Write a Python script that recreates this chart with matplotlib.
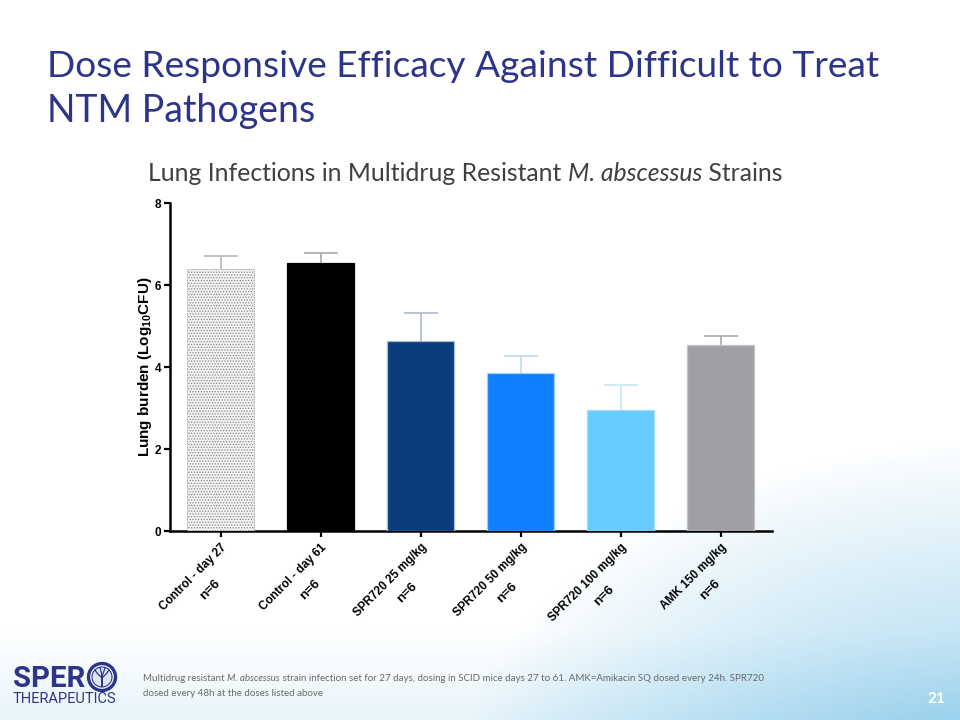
import numpy as np
import matplotlib
matplotlib.use("Agg")
import matplotlib.pyplot as plt
from matplotlib.patches import Circle

# ---------------- data ----------------
categories = ["Control - day 27", "Control - day 61", "SPR720 25 mg/kg",
              "SPR720 50 mg/kg", "SPR720 100 mg/kg", "AMK 150 mg/kg"]
group_n = ["n=6", "n=6", "n=6", "n=6", "n=6", "n=6"]
means = [6.38, 6.54, 4.64, 3.86, 2.94, 4.54]
sem = [0.32, 0.23, 0.67, 0.40, 0.62, 0.22]
yticks = [0, 2, 4, 6, 8]

bar_colors = ["#f2f2f2", "#000000", "#0b3d7e", "#107fff", "#66ccff", "#a09fa4"]
edge_colors = ["#8a8a8a", "#000000", "#a9bccd", "#9fd0f5", "#a5dcf7", "#c4c4c4"]
err_colors = ["#b8b8b8", "#a8a8a8", "#a9bccd", "#bcdcec", "#c8e6f4", "#ababab"]

W, H = 960, 720
NAVY = "#2d3588"

plt.rcParams["mathtext.fontset"] = "custom"
plt.rcParams["mathtext.bf"] = "Liberation Sans:bold"
plt.rcParams["mathtext.rm"] = "Liberation Sans:bold"
plt.rcParams["hatch.linewidth"] = 0.6

fig = plt.figure(figsize=(W / 100, H / 100), dpi=100)
renderer = fig.canvas.get_renderer()

# ---------------- background ----------------
bg_ax = fig.add_axes([0, 0, 1, 1], zorder=-10)
yy, xx = np.mgrid[0:H, 0:W].astype(float)
d = np.sqrt(((xx - 1010) / 560) ** 2 + ((yy - 800) / 360) ** 2)
a = np.clip(1 - d, 0, 1) ** 0.9 * 0.95
band = np.clip((yy - 630) / 90, 0, 1) * 0.22
a = np.clip(a + band, 0, 1)
light = np.array([150, 208, 236]) / 255.0
img = np.ones((H, W, 3)) * (1 - a[..., None]) + light * a[..., None]
bg_ax.imshow(img, extent=[0, W, H, 0], aspect="auto")
bg_ax.set_xlim(0, W)
bg_ax.set_ylim(H, 0)
bg_ax.axis("off")


def fx(px):
    return px / W


def fy(py):
    return 1 - py / H


def fit_runs(x_px, y_px, runs, target_w, color, family, weight="normal"):
    """Place consecutive text runs; scale font so total width equals target."""
    def place(size):
        x = x_px
        objs = []
        for s, style in runs:
            t = fig.text(fx(x), fy(y_px), s, fontsize=size, style=style,
                         family=family, color=color, weight=weight, va="baseline")
            bb = t.get_window_extent(renderer)
            x += bb.width
            objs.append(t)
        return objs, x - x_px
    objs, w = place(10)
    for o in objs:
        o.remove()
    size = 10 * target_w / w
    place(size)
    return size


# ---------------- titles ----------------
fit_runs(47, 77, [("Dose Responsive Efficacy Against Difficult to Treat", "normal")],
         833, NAVY, "Lato")
fit_runs(47, 122, [("NTM Pathogens", "normal")], 268, NAVY, "Lato")

fit_runs(148, 181, [("Lung Infections in Multidrug Resistant ", "normal"),
                    ("M. abscessus", "italic"), (" Strains", "normal")],
         635, "#404040", "Lato")

# ---------------- chart ----------------
ax = fig.add_axes([fx(170), fy(531), (772 - 170) / W, (531 - 203) / H])
ax.set_facecolor("none")
x = np.arange(len(categories))
for i in range(len(categories)):
    if i == 0:
        ax.bar(x[i], means[i], width=0.67, color=bar_colors[i], edgecolor=edge_colors[i],
               hatch="......", linewidth=0.6, linestyle=":", zorder=3)
    else:
        ax.bar(x[i], means[i], width=0.67, color=bar_colors[i], edgecolor=edge_colors[i],
               linewidth=0.9, zorder=3)
    top = means[i] + sem[i]
    ax.vlines(x[i], means[i], top, color=err_colors[i], linewidth=1.2, zorder=2)
    ax.hlines(top, x[i] - 0.17, x[i] + 0.17, color=err_colors[i], linewidth=1.2, zorder=2)

ax.set_xlim(-0.505, 5.515)
ax.set_ylim(0, 8)
ax.set_yticks(yticks)
ax.set_yticklabels([str(v) for v in yticks], fontsize=8.5, fontweight="bold",
                   family="Liberation Sans")
ax.set_xticks(x)
LBL_SIZE = 8.5
N_SIZE = 9.5
ax.set_xticklabels(categories, rotation=45, ha="right", va="top", rotation_mode="anchor",
                   fontsize=LBL_SIZE, fontweight="bold", family="Liberation Sans")
for side in ["top", "right"]:
    ax.spines[side].set_visible(False)
for side in ["left", "bottom"]:
    ax.spines[side].set_linewidth(1.8)
ax.tick_params(axis="both", direction="out", length=4.5, width=1.6, pad=2)
ax.tick_params(axis="x", pad=3)
ax.set_ylabel(r"Lung burden (Log$_{\mathbf{10}}$CFU)", fontsize=11, fontweight="bold",
              family="Liberation Sans")
ax.yaxis.set_label_coords((154 - 170) / 602, 0.5)

# second line of each category label ("n=6"), centred under the first line
pt_per_px = 72 / 100
u = np.array([np.sqrt(0.5), np.sqrt(0.5)])     # text direction (display, y up)
nrm = np.array([-np.sqrt(0.5), np.sqrt(0.5)])  # text "up" direction
anchor = np.array([0.0, -(4.5 + 3) / pt_per_px])
for i, (c, nlab) in enumerate(zip(categories, group_n)):
    tmp = fig.text(0, 0, c, fontsize=LBL_SIZE, fontweight="bold", family="Liberation Sans")
    bb = tmp.get_window_extent(renderer)
    tmp.remove()
    L, h = bb.width, bb.height
    c1 = anchor - (L / 2) * u - (h / 2) * nrm
    c2 = c1 - 21 * nrm + 3 * u
    ax.annotate(nlab, xy=(x[i], 0), xycoords=("data", "axes fraction"),
                xytext=(c2[0] * pt_per_px, c2[1] * pt_per_px), textcoords="offset points",
                rotation=45, rotation_mode="anchor", ha="center", va="center",
                fontsize=N_SIZE, fontweight="bold", family="Liberation Sans",
                annotation_clip=False)

# ---------------- footer ----------------
fit_runs(13, 687, [("SPER", "normal")], 72, NAVY, "Roboto", weight="bold")
fit_runs(13, 703, [("THERAPEUTICS", "normal")], 103, NAVY, "Roboto")
logo = fig.add_axes([0, 0, 1, 1], zorder=5)
logo.set_xlim(0, W)
logo.set_ylim(H, 0)
logo.axis("off")
logo.add_patch(Circle((102, 677), 13.5, facecolor="none", edgecolor=NAVY, linewidth=2.4))
logo.add_patch(Circle((102, 677), 10, facecolor="#dfe6f2", edgecolor=NAVY, linewidth=0.8))
logo.plot([102, 102], [686, 676], color=NAVY, lw=1.4)
logo.plot([102, 97, 95], [678, 673, 670], color=NAVY, lw=0.9)
logo.plot([102, 107, 109], [678, 673, 670], color=NAVY, lw=0.9)
logo.plot([102, 101, 100], [676, 671, 668], color=NAVY, lw=0.9)
logo.plot([102, 104, 105], [676, 671, 668], color=NAVY, lw=0.9)

fsz = fit_runs(143, 681, [("Multidrug resistant ", "normal"), ("M. abscessus", "italic"),
                          (" strain infection set for 27 days, dosing in SCID mice days 27 to 61. "
                           "AMK=Amikacin SQ dosed every 24h. SPR720", "normal")],
               620, "#6a6a6a", "Lato")
fig.text(fx(143), fy(696), "dosed every 48h at the doses listed above", fontsize=fsz,
         family="Lato", color="#6a6a6a", va="baseline")

fig.text(fx(945), fy(703), "21", fontsize=11, family="Lato", weight="bold",
         color="white", ha="right", va="baseline")

fig.savefig("out.png", dpi=100)
